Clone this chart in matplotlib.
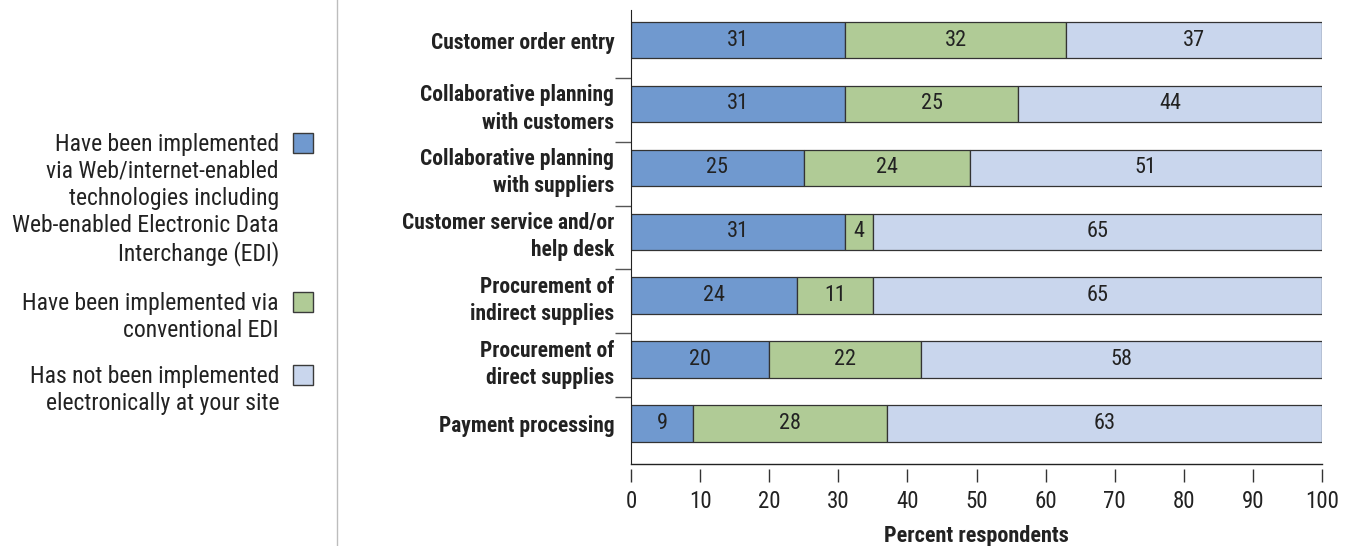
import numpy as np
import matplotlib.pyplot as plt
import matplotlib.patches as mpatches
from matplotlib.lines import Line2D

plt.rcParams['font.family'] = ['Roboto Condensed', 'DejaVu Sans']

categories = [
    "Customer order entry",
    "Collaborative planning\nwith customers",
    "Collaborative planning\nwith suppliers",
    "Customer service and/or\nhelp desk",
    "Procurement of\nindirect supplies",
    "Procurement of\ndirect supplies",
    "Payment processing",
]
web_edi = [31, 31, 25, 31, 24, 20, 9]
conventional_edi = [32, 25, 24, 4, 11, 22, 28]
not_implemented = [37, 44, 51, 65, 65, 58, 63]

series_labels = [
    "Have been implemented\nvia Web/internet-enabled\ntechnologies including\nWeb-enabled Electronic Data\nInterchange (EDI)",
    "Have been implemented via\nconventional EDI",
    "Has not been implemented\nelectronically at your site",
]
colors = ["#7099cf", "#b0cb96", "#c9d6ed"]
x_ticks = np.arange(0, 101, 10)

W, H = 1351, 546
fig = plt.figure(figsize=(W / 100, H / 100), dpi=100)
ax = fig.add_axes([631 / W, 1 - 463.5 / H, (1322 - 631) / W, (463.5 - 10) / H])

y = np.arange(len(categories))
left = np.zeros(len(categories))
for vals, col in zip([web_edi, conventional_edi, not_implemented], colors):
    vals = np.array(vals, dtype=float)
    bars = ax.barh(y, vals, left=left, height=0.57, color=col,
                   edgecolor="#333333", linewidth=0.9)
    for b, v in zip(bars, vals):
        ax.text(b.get_x() + b.get_width() / 2, b.get_y() + b.get_height() / 2,
                f"{int(v)}", ha="center", va="center", fontsize=16, color="#222222")
    left += vals

ax.set_xlim(0, 100)
ax.set_ylim(len(categories) - 1 + 0.626, -0.47)

# y axis: bold category names, separators as minor ticks
ax.set_yticks(y)
ax.set_yticklabels(categories, fontweight="bold", fontsize=15.5, color="#222222",
                   ha="right", multialignment="right", linespacing=1.3)
ax.tick_params(axis="y", which="major", length=0, pad=12)
ax.set_yticks(y[:-1] + 0.59, minor=True)
ax.tick_params(axis="y", which="minor", length=11.5, width=1, color="#555555")

# x axis: ticks hang below a detached baseline
ax.spines["top"].set_visible(False)
ax.spines["right"].set_visible(False)
ax.spines["bottom"].set_position(("outward", 4))
ax.spines["bottom"].set_visible(False)
ax.spines["left"].set_color("#222222")
ax.add_line(Line2D([0, 1], [0, 0], transform=ax.transAxes, color="#222222",
                   linewidth=1, clip_on=False))
ax.set_xticks(x_ticks)
ax.set_xticklabels([str(t) for t in x_ticks], fontsize=16.5, color="#222222")
ax.tick_params(axis="x", length=9, width=1, color="#333333", pad=6)
ax.set_xlabel("Percent respondents", fontweight="bold", fontsize=16,
              color="#222222", labelpad=9)

# legend on the left, text right-aligned next to swatches
text_right = 279 / W
first_line_y = [143, 302, 375]
for lab, col, yc in zip(series_labels, colors, first_line_y):
    fig.text(text_right, 1 - (yc - 10) / H, lab, ha="right", va="top",
             multialignment="right", fontsize=17, color="#222222", linespacing=1.22)
    fig.add_artist(mpatches.Rectangle((293 / W, 1 - (yc + 10) / H), 20 / W, 20 / H,
                                      transform=fig.transFigure, facecolor=col,
                                      edgecolor="#3a3a3a", linewidth=1))

fig.add_artist(Line2D([337 / W, 337 / W], [0, 1], transform=fig.transFigure,
                      color="#bdbdbd", linewidth=1))

fig.savefig("out.png", dpi=100, facecolor="white")
